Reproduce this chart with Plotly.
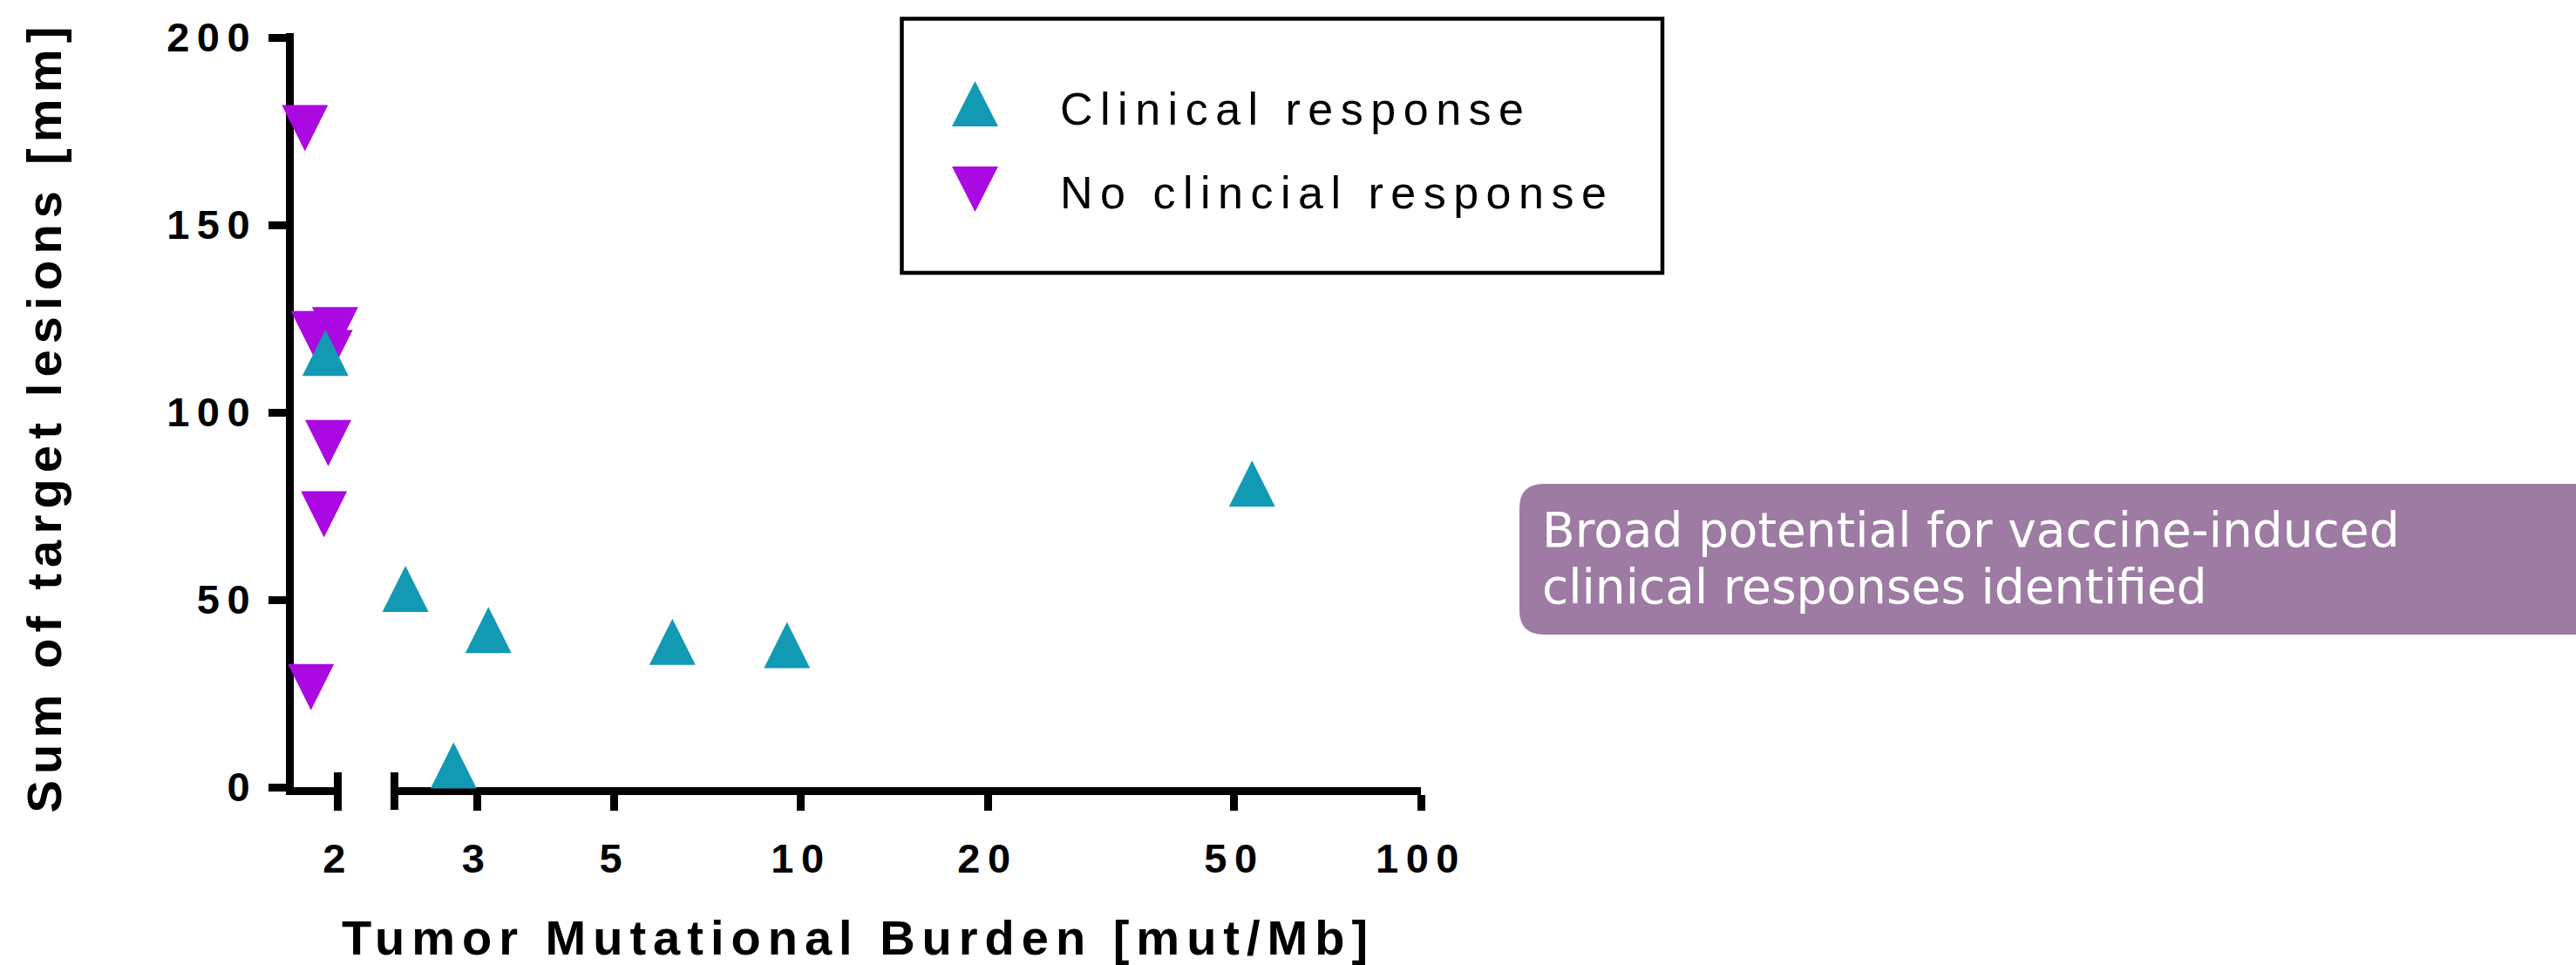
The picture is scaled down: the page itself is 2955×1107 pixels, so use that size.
import math
import plotly.graph_objects as go

# ---------------- data ----------------
series_names = ["Clinical response", "No clincial response"]

clinical_tmb = [1.91, 2.30, 2.75, 3.13, 6.20, 9.49, 53.4]
clinical_lesions = [115.9, 52.9, 5.8, 41.9, 38.8, 37.9, 81.0]

no_response_tmb = [1.77, 1.83, 1.98, 1.94, 1.93, 1.90, 1.81]
no_response_lesions = [175.8, 120.9, 121.9, 115.8, 91.8, 72.8, 26.7]

x_ticks_low = [2]
x_ticks_high = [3, 5, 10, 20, 50, 100]
y_ticks = [0, 50, 100, 150, 200]

x_title = "Tumor Mutational Burden [mut/Mb]"
y_title = "Sum of target lesions [mm]"
callout_lines = ["Broad potential for vaccine-induced", "clinical responses identified"]

# broken x axis: a short low segment ending at 2, then 2.2 .. 100
low_range = (1.698, 2.0)
high_range = (2.208, 100.0)
axis_break = 2.1

# ---------------- styling ----------------
TEAL = "#129AB4"
PURPLE = "#AA0AE1"
CALLOUT = "#9D7BA3"
FONT = "Liberation Sans"
SPACING = 8.5

W, H = 2955, 1107
ML, MR, MT, MB = 337, 1325, 38, 204
PW = W - ML - MR
PH = H - MT - MB
# the y line runs a few pixels past the top tick so the 200 tick sits flush with it
Y_TOP = 200 * PH / (PH - 5)


def px(x):
    """figure pixel column -> paper x"""
    return (x - ML) / PW


def py(y):
    """figure pixel row -> paper y"""
    return (H - MB - y) / PH


def spaced(text, ls=SPACING, trailing=False):
    """letter-spaced label; optionally keep the spacing after the last glyph"""
    if trailing:
        return f'<span style="letter-spacing:{ls}px">{text}</span>'
    if len(text) < 2:
        return text
    return f'<span style="letter-spacing:{ls}px">{text[:-1]}</span>{text[-1]}'


MARKER = 53
up_marker = dict(symbol="arrow-down", angle=180, size=MARKER, standoff=MARKER / 2,
                 color=TEAL, line=dict(width=0))
down_marker = dict(symbol="arrow-down", angle=0, size=MARKER, standoff=MARKER / 2,
                   color=PURPLE, line=dict(width=0))


def split(xs, ys):
    lo = [(a, b) for a, b in zip(xs, ys) if a < axis_break]
    hi = [(a, b) for a, b in zip(xs, ys) if a >= axis_break]
    unz = lambda pts: ([p[0] for p in pts], [p[1] for p in pts])
    return unz(lo), unz(hi)


(nr_lo_x, nr_lo_y), (nr_hi_x, nr_hi_y) = split(no_response_tmb, no_response_lesions)
(cr_lo_x, cr_lo_y), (cr_hi_x, cr_hi_y) = split(clinical_tmb, clinical_lesions)

fig = go.Figure()
fig.add_trace(go.Scatter(x=nr_lo_x, y=nr_lo_y, xaxis="x", yaxis="y", mode="markers",
                         marker=down_marker, name=series_names[1], cliponaxis=False))
if nr_hi_x:
    fig.add_trace(go.Scatter(x=nr_hi_x, y=nr_hi_y, xaxis="x2", yaxis="y", mode="markers",
                             marker=down_marker, name=series_names[1], cliponaxis=False))
fig.add_trace(go.Scatter(x=cr_lo_x, y=cr_lo_y, xaxis="x", yaxis="y", mode="markers",
                         marker=up_marker, name=series_names[0], cliponaxis=False))
fig.add_trace(go.Scatter(x=cr_hi_x, y=cr_hi_y, xaxis="x2", yaxis="y", mode="markers",
                         marker=up_marker, name=series_names[0], cliponaxis=False))

tick_font = dict(family=FONT, size=47, color="black", weight="bold")
axis_common = dict(
    type="log", showline=True, linewidth=9, linecolor="black", ticks="outside",
    ticklen=18, tickwidth=9, tickcolor="black", showgrid=False, zeroline=False,
    tickfont=tick_font, tickmode="array", anchor="y", layer="below traces",
    ticklabelstandoff=15,
)

fig.update_layout(
    width=W, height=H,
    margin=dict(l=ML, r=MR, t=MT, b=MB, pad=0),
    paper_bgcolor="white", plot_bgcolor="white",
    showlegend=False,
    xaxis=dict(axis_common,
               domain=[0, px(387.5)],
               range=[math.log10(low_range[0]), math.log10(low_range[1])],
               tickvals=x_ticks_low,
               ticktext=[spaced(str(v), trailing=True) for v in x_ticks_low]),
    xaxis2=dict(axis_common,
                domain=[px(452.5), 1],
                range=[math.log10(high_range[0]), math.log10(high_range[1])],
                tickvals=x_ticks_high,
                ticktext=[spaced(str(v), trailing=True) for v in x_ticks_high]),
    yaxis=dict(range=[0, Y_TOP], anchor="x", showline=True, linewidth=9, linecolor="black",
               ticks="outside", ticklen=20, tickwidth=9, tickcolor="black",
               showgrid=False, zeroline=False, tickmode="array", tickvals=y_ticks,
               ticktext=[spaced(str(v)) for v in y_ticks], tickfont=tick_font,
               layer="below traces", ticklabelstandoff=12),
)

shapes = []
# end caps marking the axis break
for ref, pos in (("x domain", 1), ("x2 domain", 0)):
    shapes.append(dict(type="line", xref=ref, x0=pos, x1=pos,
                       yref="y domain", ysizemode="pixel", yanchor=0, y0=-26, y1=17,
                       line=dict(color="black", width=9), layer="below"))

# legend frame and symbols
shapes.append(dict(type="rect", xref="paper", yref="paper",
                   x0=px(1034.5), x1=px(1907), y0=py(313), y1=py(21.5),
                   line=dict(color="black", width=4.5), fillcolor="rgba(0,0,0,0)"))
half_w, half_h = MARKER / 2, 26
tri_up = f"M {-half_w},{-half_h} L {half_w},{-half_h} L 0,{half_h} Z"
tri_down = f"M {-half_w},{half_h} L {half_w},{half_h} L 0,{-half_h} Z"
legend_rows = [(119, tri_up, TEAL, series_names[0]), (217, tri_down, PURPLE, series_names[1])]
for row_y, path, color, _ in legend_rows:
    shapes.append(dict(type="path", xref="paper", yref="paper",
                       xsizemode="pixel", ysizemode="pixel",
                       xanchor=px(1118.5), yanchor=py(row_y), path=path,
                       fillcolor=color, line=dict(width=0)))

# callout box with rounded left corners, running off the right edge
box_h, box_r, box_w = 173, 28, W - 1743 + 40
callout_path = (f"M {box_r},0 H {box_w} V {-box_h} H {box_r} "
                f"Q 0,{-box_h} 0,{-box_h + box_r} V {-box_r} Q 0,0 {box_r},0 Z")
shapes.append(dict(type="path", xref="paper", yref="paper",
                   xsizemode="pixel", ysizemode="pixel",
                   xanchor=px(1743), yanchor=py(555), path=callout_path,
                   fillcolor=CALLOUT, line=dict(width=0)))

annotations = []
legend_font = dict(family=FONT, size=52, color="black")
for (row_y, _, _, label), text_y in zip(legend_rows, (125, 221)):
    annotations.append(dict(xref="paper", yref="paper", x=px(1214), y=py(text_y),
                            xanchor="left", yanchor="middle", showarrow=False,
                            text=spaced(label), font=legend_font))

title_font = dict(family=FONT, size=56, color="black", weight="bold")
annotations.append(dict(xref="paper", yref="paper", x=px(980), y=py(1075),
                        xanchor="center", yanchor="middle", showarrow=False,
                        text=spaced(x_title, 8.0), font=title_font))
annotations.append(dict(xref="paper", yref="paper", x=px(50), y=py(481.5),
                        xanchor="center", yanchor="middle", showarrow=False,
                        textangle=-90, text=spaced(y_title, 7.2), font=title_font))

# callout text, one annotation per line, centred on the box
callout_font = dict(family="DejaVu Sans", size=55, color="white")
callout_pitch = 65
callout_mid = 640
for i, line in enumerate(callout_lines):
    cy = callout_mid + (i - (len(callout_lines) - 1) / 2) * callout_pitch
    annotations.append(dict(xref="paper", yref="paper", x=px(1767.5), y=py(cy),
                            xanchor="left", yanchor="middle", showarrow=False,
                            borderpad=0, text=line, font=callout_font))

fig.update_layout(shapes=shapes, annotations=annotations)

fig.write_html("out.html", config={"displayModeBar": False})
